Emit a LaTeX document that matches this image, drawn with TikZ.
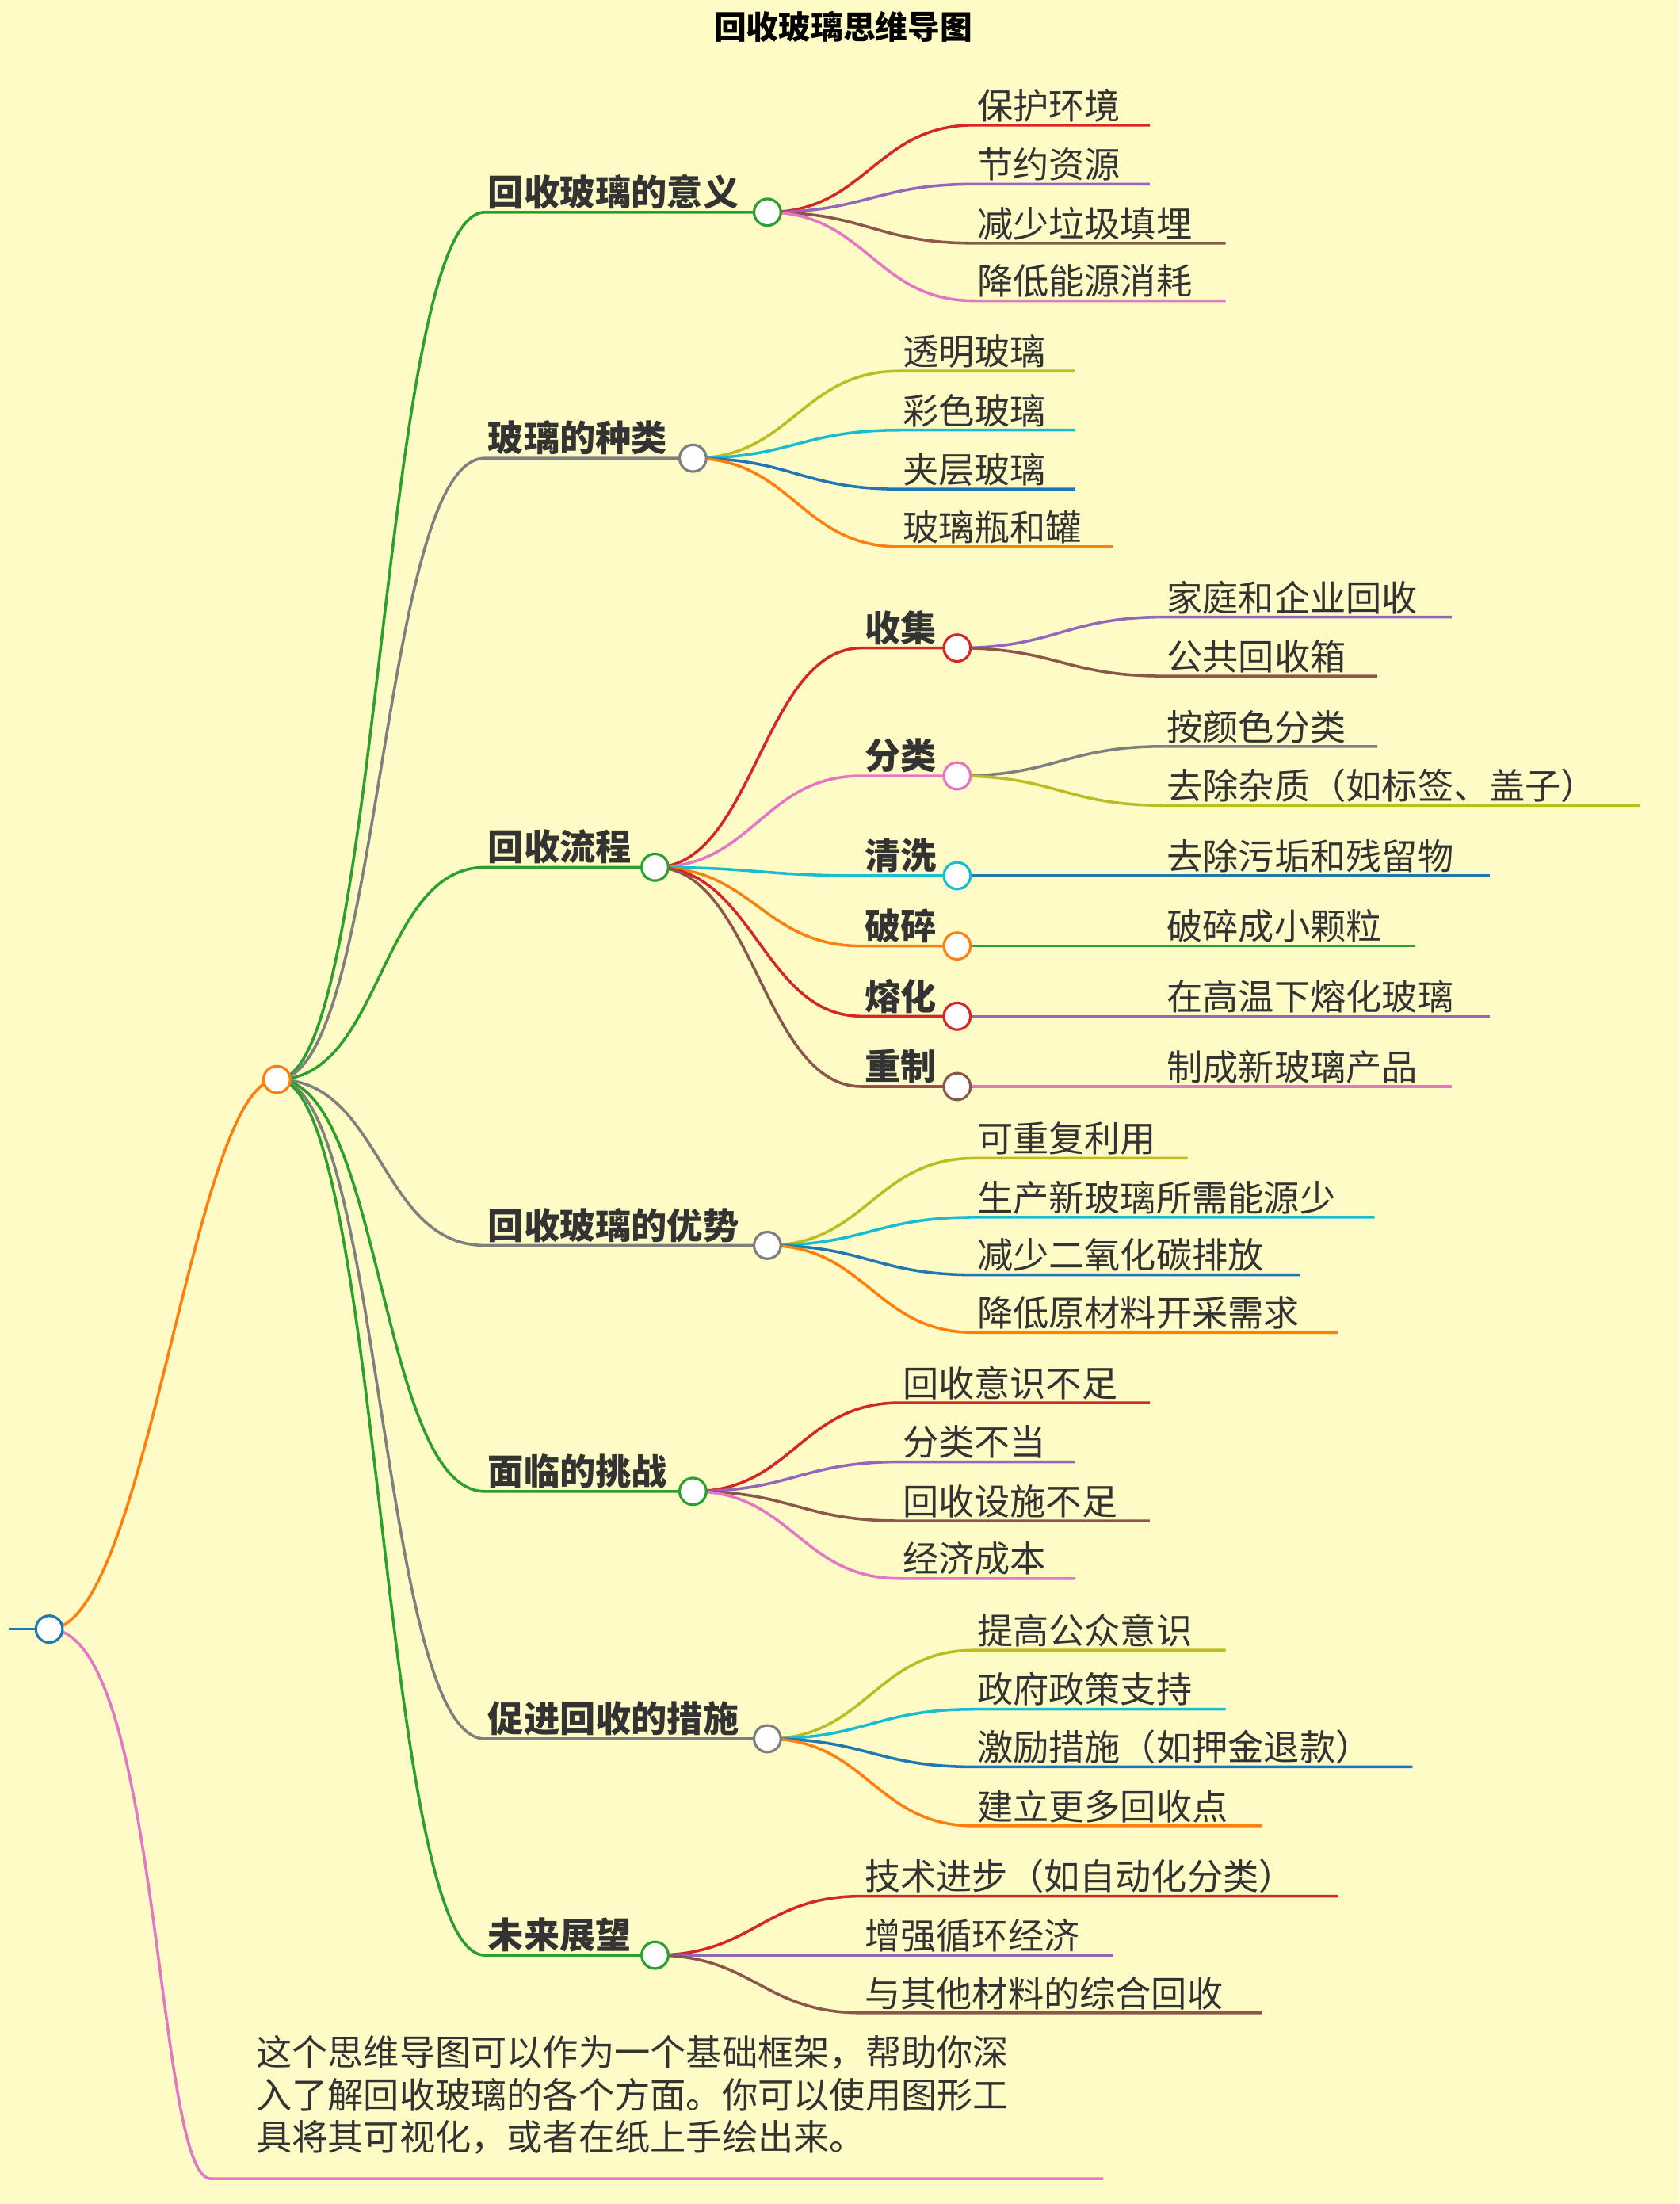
\documentclass[tikz,border=0pt]{standalone}
\usepackage{fontspec}
\setmainfont{Noto Sans CJK SC}
\definecolor{bg}{HTML}{FEFBC6}
\definecolor{ink}{HTML}{333333}
\definecolor{cred}{HTML}{D62728}
\definecolor{cpurple}{HTML}{9467BD}
\definecolor{cbrown}{HTML}{8C564B}
\definecolor{cpink}{HTML}{E377C2}
\definecolor{cgray}{HTML}{7F7F7F}
\definecolor{colive}{HTML}{BCBD22}
\definecolor{ccyan}{HTML}{17BECF}
\definecolor{cblue}{HTML}{1F77B4}
\definecolor{corange}{HTML}{FF7F0E}
\definecolor{cgreen}{HTML}{2CA02C}
\tikzset{
  branch/.style={line width=2pt},
  hub/.style={circle, draw=#1, fill=white, line width=1.8pt, inner sep=0pt, minimum size=19pt},
  leaftext/.style={anchor=south west, inner sep=2pt, text=ink, font=\fontsize{25.5}{30}\selectfont},
  headtext/.style={anchor=south west, inner sep=2pt, text=ink, font=\fontsize{25.5}{30}\selectfont\bfseries}
}
% leaves of one hub: parent, start x, control offset, prefix, list y/end x/colour/text
\newcommand{\leaves}[5]{%
  \foreach \y/\xe/\c/\t [count=\i] in {#5} {
    \coordinate (#4\i s) at (#2,\y);
    \coordinate (#4\i e) at (\xe,\y);
    \draw[branch,\c] (#1.center) .. controls +(#3,0) and +(-#3,0) .. (#4\i s) -- (#4\i e);
    \node[leaftext] (#4\i t) at (#4\i s) {\t};
  }%
}
\begin{document}
\begin{tikzpicture}[x=1pt, y=-1pt]
  \useasboundingbox (0,0) rectangle (1195,1568);
  \fill[bg] (0,0) rectangle (1195,1568);

  % title
  \node[text=black, font=\fontsize{23}{26}\selectfont\bfseries] (title) at (600,19) {回收玻璃思维导图};

  % hubs
  \coordinate (rootin) at (6,1159);
  \coordinate (notes) at (150,1550);
  \coordinate (notee) at (785,1550);
  \coordinate (rootc) at (35,1159);
  \coordinate (mainc) at (197,768);

  \draw[branch,cblue] (rootin) -- (rootc);
  \draw[branch,corange] (rootc) .. controls +(70,0) and +(-60,0) .. (mainc);
  \draw[branch,cpink] (rootc) .. controls +(80,0) and +(-40,0) .. (notes) -- (notee);
  \node[hub=cblue] (root) at (rootc) {};
  \node[leaftext, anchor=north west, align=left] (note) at (180,1446)
    {这个思维导图可以作为一个基础框架，帮助你深\\入了解回收玻璃的各个方面。你可以使用图形工\\具将其可视化，或者在纸上手绘出来。};

  % main branches
  \foreach \n/\y/\xe/\c/\t in {
      a/151/546/cgreen/回收玻璃的意义,
      b/326/493/cgray/玻璃的种类,
      c/617/466/cgreen/回收流程,
      d/886/546/cgray/回收玻璃的优势,
      e/1061/493/cgreen/面临的挑战,
      f/1237/546/cgray/促进回收的措施,
      g/1391/466/cgreen/未来展望} {
    \coordinate (\n s) at (345,\y);
    \coordinate (\n c) at (\xe,\y);
    \draw[branch,\c] (mainc) .. controls +(75,0) and +(-75,0) .. (\n s) -- (\n c);
    \node[headtext] (\n t) at (\n s) {\t};
  }

  % process steps
  \foreach \n/\y/\c/\t in {
      c1/461/cred/收集, c2/552/cpink/分类, c3/623/ccyan/清洗,
      c4/673/corange/破碎, c5/723/cred/熔化, c6/773/cbrown/重制} {
    \coordinate (\n s) at (613,\y);
    \coordinate (\n c) at (681,\y);
    \draw[branch,\c] (cc) .. controls +(70,0) and +(-70,0) .. (\n s) -- (\n c);
    \node[headtext] (\n t) at (\n s) {\t};
  }

  % leaves
  \leaves{ac}{693}{70}{la}{89/818/cred/保护环境, 131/818/cpurple/节约资源, 173/872/cbrown/减少垃圾填埋, 214/872/cpink/降低能源消耗}
  \leaves{bc}{640}{70}{lb}{264/765/colive/透明玻璃, 306/765/ccyan/彩色玻璃, 348/765/cblue/夹层玻璃, 389/792/corange/玻璃瓶和罐}
  \leaves{c1c}{828}{70}{lc}{439/1033/cpurple/家庭和企业回收, 481/980/cbrown/公共回收箱}
  \leaves{c2c}{828}{70}{ld}{531/980/cgray/按颜色分类, 573/1167/colive/去除杂质（如标签、盖子）}
  \leaves{c3c}{828}{70}{le}{623/1060/cblue/去除污垢和残留物}
  \leaves{c4c}{828}{70}{lf}{673/1007/cgreen/破碎成小颗粒}
  \leaves{c5c}{828}{70}{lg}{723/1060/cpurple/在高温下熔化玻璃}
  \leaves{c6c}{828}{70}{lh}{773/1033/cpink/制成新玻璃产品}
  \leaves{dc}{693}{70}{li}{824/845/colive/可重复利用, 866/978/ccyan/生产新玻璃所需能源少, 907/925/cblue/减少二氧化碳排放, 948/952/corange/降低原材料开采需求}
  \leaves{ec}{640}{70}{lj}{998/818/cred/回收意识不足, 1040/765/cpurple/分类不当, 1082/818/cbrown/回收设施不足, 1123/765/cpink/经济成本}
  \leaves{fc}{693}{70}{lk}{1174/872/colive/提高公众意识, 1216/872/ccyan/政府政策支持, 1257/1005/cblue/激励措施（如押金退款）, 1299/898/corange/建立更多回收点}
  \leaves{gc}{613}{70}{ll}{1349/952/cred/技术进步（如自动化分类）, 1391/792/cpurple/增强循环经济, 1432/898/cbrown/与其他材料的综合回收}

  % hub circles on top
  \foreach \n/\c in {a/cgreen,b/cgray,c/cgreen,d/cgray,e/cgreen,f/cgray,g/cgreen,
      c1/cred,c2/cpink,c3/ccyan,c4/corange,c5/cred,c6/cbrown}
    \node[hub=\c] (\n) at (\n c) {};
  \node[hub=corange] (main) at (mainc) {};
\end{tikzpicture}
\end{document}
